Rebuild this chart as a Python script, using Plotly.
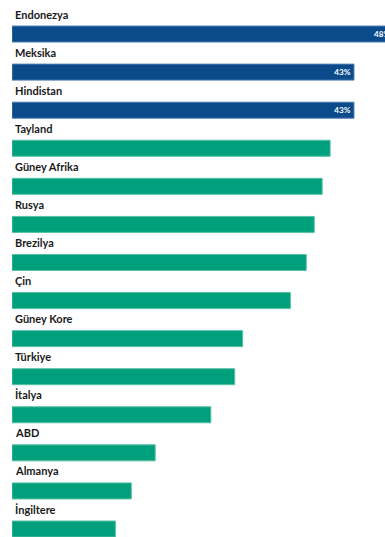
import plotly.graph_objects as go

# Countries, top to bottom
countries = ["Endonezya", "Meksika", "Hindistan", "Tayland", "Güney Afrika", "Rusya",
             "Brezilya", "Çin", "Güney Kore", "Türkiye", "İtalya", "ABD", "Almanya", "İngiltere"]
# Share (%)
values = [48, 43, 43, 40, 39, 38, 37, 35, 29, 28, 25, 18, 15, 13]
# The leading countries are highlighted and labelled with their value
n_highlight = 3

blue = "#0b4a8b"
green = "#00a07c"
colors = [blue if i < n_highlight else green for i in range(len(countries))]
line_colors = ["#4f7fb5" if i < n_highlight else "#56c0a4" for i in range(len(countries))]
bar_text = [f"{v}%" if i < n_highlight else "" for i, v in enumerate(values)]

label_font = "Lato, Roboto, sans-serif"

fig = go.Figure(go.Bar(
    x=values,
    y=countries,
    orientation="h",
    width=0.42,
    marker=dict(color=colors, line=dict(color=line_colors, width=1)),
    text=bar_text,
    textposition="inside",
    insidetextanchor="end",
    textfont=dict(family=label_font, size=9, color="white", weight="bold"),
    cliponaxis=True,
    hoverinfo="skip",
))

# Country names sit above their bars
for c in countries:
    fig.add_annotation(
        x=0, y=c, xref="x", yref="y",
        text=f"<b>{c}</b>", showarrow=False,
        xanchor="left", yanchor="middle",
        xshift=1, yshift=20,
        font=dict(family=label_font, size=11, color="#1a1a1a"),
    )

fig.update_layout(
    width=385, height=537,
    margin=dict(l=12, r=0, t=15, b=0),
    paper_bgcolor="white", plot_bgcolor="white",
    showlegend=False,
    xaxis=dict(range=[0, 46.9], visible=False, fixedrange=True),
    yaxis=dict(categoryorder="array", categoryarray=countries,
               range=[13.21, -0.5], visible=False, fixedrange=True),
    uniformtext=dict(minsize=8, mode="show"),
)

fig.write_html("out.html")
